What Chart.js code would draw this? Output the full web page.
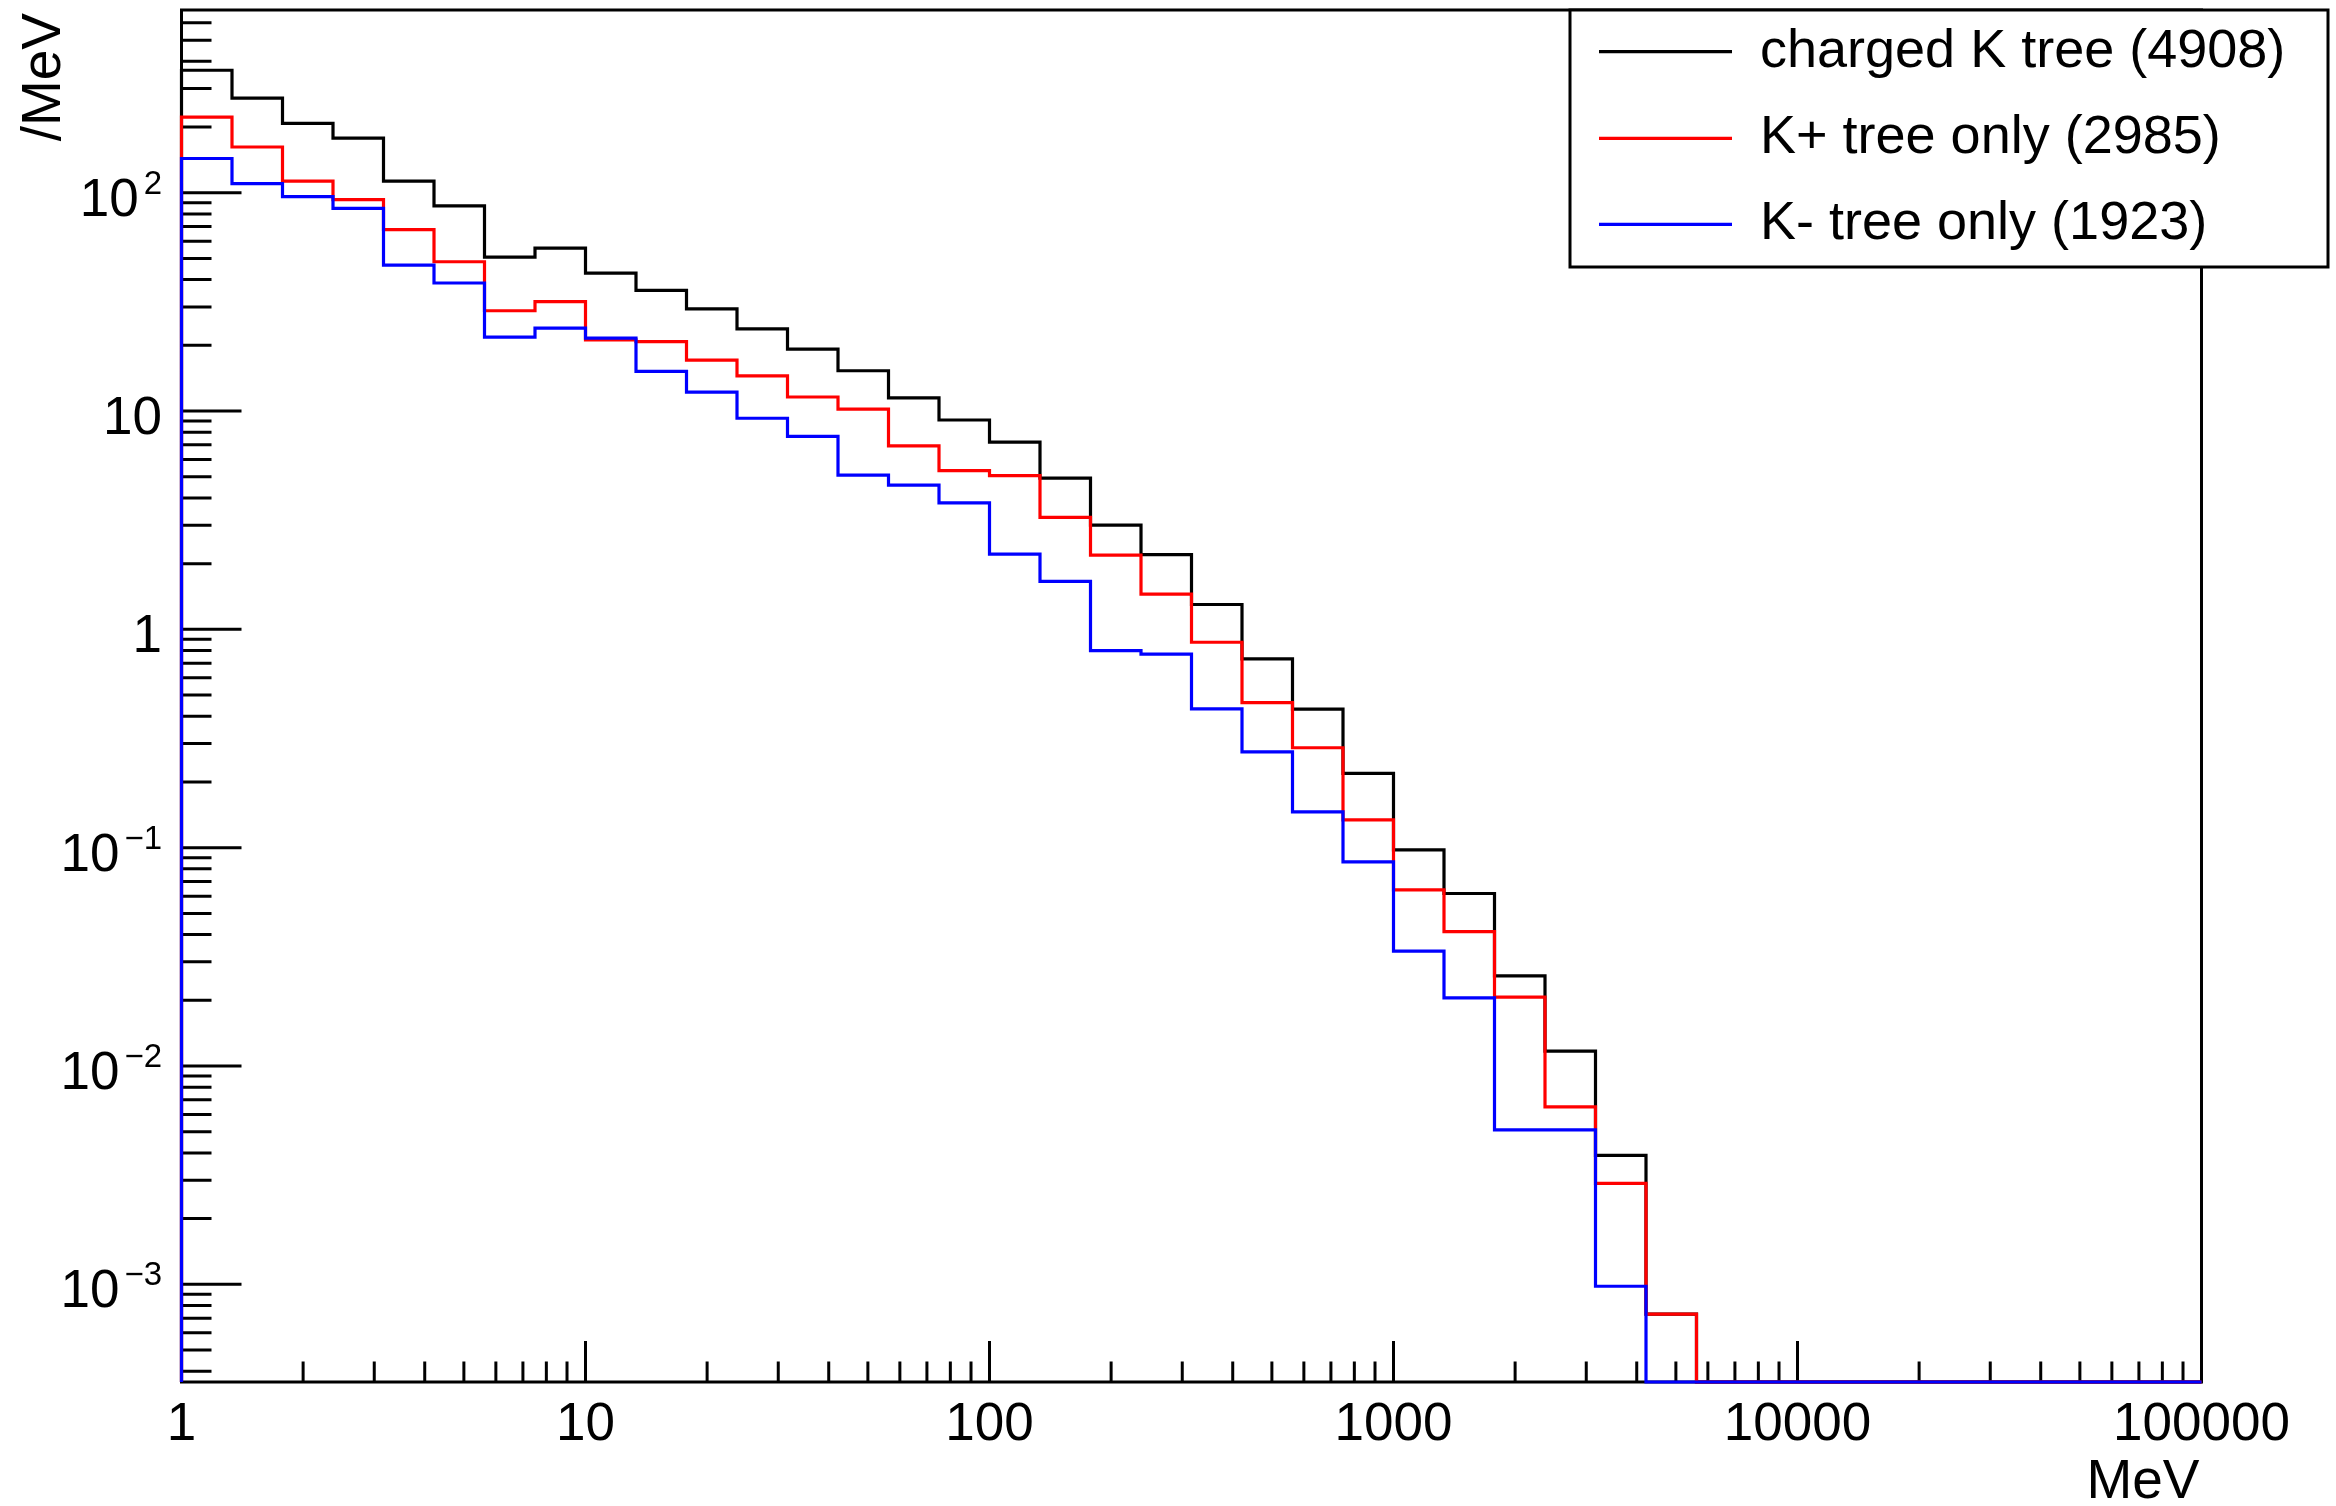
<!DOCTYPE html>
<html>
<head>
<meta charset="utf-8">
<title>charged K tree energy spectrum</title>
<script src="https://cdn.jsdelivr.net/npm/chart.js@4.4.1/dist/chart.umd.min.js"></script>
<style>
    html, body { margin: 0; padding: 0; background: #ffffff; }
    canvas { display: block; }
</style>
</head>
<body>
<canvas id="spectrumChart" width="2336" height="1506"></canvas>
<script>
// bin edges in MeV (8 log bins per decade, 1 .. 100000)
const binEdges = [
    1, 1.3335, 1.7783, 2.3714, 3.1623, 4.2170, 5.6234, 7.4989,
    10, 13.335, 17.783, 23.714, 31.623, 42.170, 56.234, 74.989,
    100, 133.35, 177.83, 237.14, 316.23, 421.70, 562.34, 749.89,
    1000, 1333.5, 1778.3, 2371.4, 3162.3, 4217.0, 5623.4, 7498.9,
    10000, 13335, 17783, 23714, 31623, 42170, 56234, 74989,
    100000
];

// entries / MeV, one value per bin
const chargedK = [
    364, 271, 208, 178, 113, 87, 50.7, 55.8,
    42.8, 35.7, 29.4, 23.8, 19.2, 15.3, 11.5, 9.1,
    7.2, 4.93, 3.0, 2.2, 1.3, 0.733, 0.431, 0.219,
    0.0977, 0.0617, 0.0259, 0.0117, 0.0039, 0.00073, 0, 0,
    0, 0, 0, 0, 0, 0, 0, 0
];
const kPlusOnly = [
    222, 162, 113, 93, 67.8, 48.3, 28.8, 31.7,
    21.2, 20.8, 17.1, 14.5, 11.6, 10.2, 6.93, 5.33,
    5.06, 3.26, 2.19, 1.45, 0.873, 0.462, 0.287, 0.134,
    0.0641, 0.0413, 0.0207, 0.0065, 0.0029, 0.00073, 0, 0,
    0, 0, 0, 0, 0, 0, 0, 0
];
const kMinusOnly = [
    143.5, 110, 95.9, 84.8, 46.6, 38.6, 21.8, 24.0,
    21.6, 15.2, 12.2, 9.27, 7.65, 5.09, 4.58, 3.80,
    2.21, 1.66, 0.80, 0.77, 0.432, 0.275, 0.146, 0.0861,
    0.0336, 0.0205, 0.0051, 0.0051, 0.00098, 0, 0, 0,
    0, 0, 0, 0, 0, 0, 0, 0
];

const seriesLabels = ["charged K tree (4908)", "K+ tree only (2985)", "K- tree only (1923)"];
const seriesColors = ["#000000", "#ff0000", "#0000ff"];

const xTickValues = [1, 10, 100, 1000, 10000, 100000];
const xTickLabels = ["1", "10", "100", "1000", "10000", "100000"];
const yTickValues = [1e-3, 1e-2, 1e-1, 1, 10, 100];
const yTickLabels = ["10^{-3}", "10^{-2}", "10^{-1}", "1", "10", "10^{2}"];
const xTitle = "MeV";
const yTitle = "/MeV";

const X_MIN = 1, X_MAX = 100000;
const Y_MIN = 3.57e-4, Y_MAX = 687;

const FONT = '"Liberation Sans", Arial, Helvetica, sans-serif';

// histogram outline: start and end on the axis floor, empty bins sit on the floor (like ROOT)
function histPoints(values) {
    const pts = [{ x: binEdges[0], y: Y_MIN }];
    values.forEach((v, i) => {
        pts.push({ x: binEdges[i], y: v > 0 ? v : Y_MIN });
    });
    pts.push({ x: binEdges[binEdges.length - 1], y: Y_MIN });
    return pts;
}

function drawYLabel(ctx, text, xRight, baseline) {
    const m = text.match(/^(.*)\^\{(.*)\}$/);
    if (!m) {
        ctx.font = "53px " + FONT;
        ctx.textAlign = "right";
        ctx.fillText(text, xRight, baseline);
        return;
    }
    const base = m[1];
    const expo = m[2].replace("-", "\u2212");
    ctx.font = "33px " + FONT;
    const expW = ctx.measureText(expo).width;
    ctx.textAlign = "right";
    ctx.fillText(expo, xRight, baseline - 22);
    ctx.font = "53px " + FONT;
    ctx.fillText(base, xRight - expW - 5, baseline);
}

const rootStyle = {
    id: "rootStyle",
    beforeDraw(chart) {
        const ctx = chart.ctx;
        ctx.save();
        ctx.fillStyle = "#ffffff";
        ctx.fillRect(0, 0, chart.width, chart.height);
        ctx.restore();
    },
    beforeDatasetsDraw(chart) {
        const { ctx, chartArea: area, scales: { x, y } } = chart;
        ctx.save();
        ctx.strokeStyle = "#000000";
        ctx.lineWidth = 3;
        ctx.strokeRect(area.left, area.top, area.right - area.left, area.bottom - area.top);

        ctx.beginPath();
        // x ticks point up into the frame
        xTickValues.forEach((d) => {
            for (let m = 1; m <= 9; m++) {
                const v = d * m;
                if (v > X_MAX) break;
                const px = x.getPixelForValue(v);
                const len = m === 1 ? 41 : 20.5;
                ctx.moveTo(px, area.bottom);
                ctx.lineTo(px, area.bottom - len);
            }
        });
        // y ticks point right into the frame
        [1e-4].concat(yTickValues).forEach((d) => {
            for (let m = 1; m <= 9; m++) {
                const v = d * m;
                if (v < Y_MIN || v > Y_MAX) continue;
                const py = y.getPixelForValue(v);
                const len = m === 1 ? 60 : 30;
                ctx.moveTo(area.left, py);
                ctx.lineTo(area.left + len, py);
            }
        });
        ctx.stroke();
        ctx.restore();
    },
    afterDraw(chart) {
        const { ctx, chartArea: area, scales: { x, y } } = chart;
        ctx.save();
        ctx.fillStyle = "#000000";
        ctx.textBaseline = "alphabetic";

        // tick labels
        ctx.font = "53px " + FONT;
        ctx.textAlign = "center";
        xTickValues.forEach((v, i) => {
            ctx.fillText(xTickLabels[i], x.getPixelForValue(v), area.bottom + 58);
        });
        yTickValues.forEach((v, i) => {
            drawYLabel(ctx, yTickLabels[i], 162, y.getPixelForValue(v) + 23);
        });

        // axis titles
        ctx.font = "55px " + FONT;
        ctx.textAlign = "right";
        ctx.fillText(xTitle, area.right - 2, 1498);
        ctx.save();
        ctx.translate(60, 13);
        ctx.rotate(-Math.PI / 2);
        ctx.textAlign = "right";
        ctx.fillText(yTitle, 0, 0);
        ctx.restore();

        // legend box
        const box = { left: 1570, top: 10, right: 2328, bottom: 267 };
        ctx.fillStyle = "#ffffff";
        ctx.fillRect(box.left, box.top, box.right - box.left, box.bottom - box.top);
        ctx.strokeStyle = "#000000";
        ctx.lineWidth = 3;
        ctx.strokeRect(box.left, box.top, box.right - box.left, box.bottom - box.top);
        const rows = [51.7, 138.3, 224.3];
        ctx.font = "54px " + FONT;
        ctx.textAlign = "left";
        ctx.textBaseline = "middle";
        seriesLabels.forEach((label, i) => {
            ctx.strokeStyle = seriesColors[i];
            ctx.lineWidth = 3.2;
            ctx.beginPath();
            ctx.moveTo(1599, rows[i]);
            ctx.lineTo(1732, rows[i]);
            ctx.stroke();
            ctx.fillStyle = "#000000";
            ctx.fillText(label, 1760, rows[i]);
        });
        ctx.restore();
    }
};

const datasets = [chargedK, kPlusOnly, kMinusOnly].map((values, i) => ({
    label: seriesLabels[i],
    data: histPoints(values),
    borderColor: seriesColors[i],
    backgroundColor: seriesColors[i],
    borderWidth: 3.2,
    stepped: true,
    fill: false,
    pointRadius: 0,
    borderCapStyle: "butt",
    borderJoinStyle: "miter",
    clip: false,
    order: 3 - i
}));

new Chart(document.getElementById("spectrumChart"), {
    type: "line",
    data: { datasets: datasets },
    options: {
        responsive: false,
        animation: false,
        devicePixelRatio: 1,
        events: [],
        layout: {
            padding: { left: 181.5, right: 2336 - 2201.5, top: 10, bottom: 1506 - 1382 }
        },
        scales: {
            x: { type: "logarithmic", min: X_MIN, max: X_MAX, display: false },
            y: { type: "logarithmic", min: Y_MIN, max: Y_MAX, display: false }
        },
        plugins: {
            legend: { display: false },
            tooltip: { enabled: false }
        }
    },
    plugins: [rootStyle]
});
</script>
</body>
</html>
